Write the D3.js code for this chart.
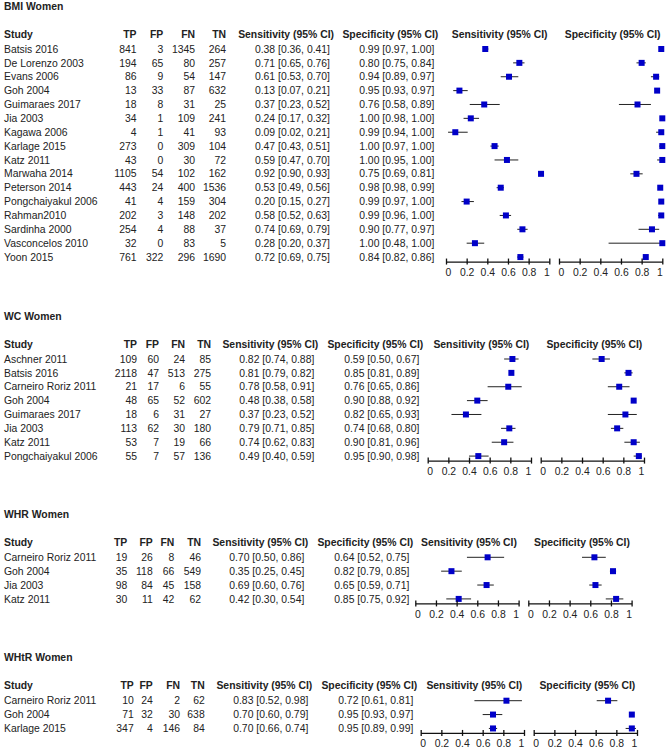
<!DOCTYPE html>
<html>
<head>
<meta charset="utf-8">
<script src="https://cdn.jsdelivr.net/npm/d3@7"></script>
<style>
body{margin:0;background:#fff;}
text{font-family:"Liberation Sans",Arial,sans-serif;font-size:10.4px;fill:#222;}
.bold{font-weight:bold;}
</style>
</head>
<body>
<div id="chart"></div>
<script>
/* data: [TP,FP,FN,TN], [est,lo,hi] */
const bmiStudy = ["Batsis 2016","De Lorenzo 2003","Evans 2006","Goh 2004","Guimaraes 2017","Jia 2003","Kagawa 2006","Karlage 2015","Katz 2011","Marwaha 2014","Peterson 2014","Pongchaiyakul 2006","Rahman2010","Sardinha 2000","Vasconcelos 2010","Yoon 2015"];
const bmiCounts = [[841,3,1345,264],[194,65,80,257],[86,9,54,147],[13,33,87,632],[18,8,31,25],[34,1,109,241],[4,1,41,93],[273,0,309,104],[43,0,30,72],[1105,54,102,162],[443,24,400,1536],[41,4,159,304],[202,3,148,202],[254,4,88,37],[32,0,83,5],[761,322,296,1690]];
const bmiSens = [[0.38,0.36,0.41],[0.71,0.65,0.76],[0.61,0.53,0.70],[0.13,0.07,0.21],[0.37,0.23,0.52],[0.24,0.17,0.32],[0.09,0.02,0.21],[0.47,0.43,0.51],[0.59,0.47,0.70],[0.92,0.90,0.93],[0.53,0.49,0.56],[0.20,0.15,0.27],[0.58,0.52,0.63],[0.74,0.69,0.79],[0.28,0.20,0.37],[0.72,0.69,0.75]];
const bmiSpec = [[0.99,0.97,1.00],[0.80,0.75,0.84],[0.94,0.89,0.97],[0.95,0.93,0.97],[0.76,0.58,0.89],[1.00,0.98,1.00],[0.99,0.94,1.00],[1.00,0.97,1.00],[1.00,0.95,1.00],[0.75,0.69,0.81],[0.98,0.98,0.99],[0.99,0.97,1.00],[0.99,0.96,1.00],[0.90,0.77,0.97],[1.00,0.48,1.00],[0.84,0.82,0.86]];

const wcStudy = ["Aschner 2011","Batsis 2016","Carneiro Roriz 2011","Goh 2004","Guimaraes 2017","Jia 2003","Katz 2011","Pongchaiyakul 2006"];
const wcCounts = [[109,60,24,85],[2118,47,513,275],[21,17,6,55],[48,65,52,602],[18,6,31,27],[113,62,30,180],[53,7,19,66],[55,7,57,136]];
const wcSens = [[0.82,0.74,0.88],[0.81,0.79,0.82],[0.78,0.58,0.91],[0.48,0.38,0.58],[0.37,0.23,0.52],[0.79,0.71,0.85],[0.74,0.62,0.83],[0.49,0.40,0.59]];
const wcSpec = [[0.59,0.50,0.67],[0.85,0.81,0.89],[0.76,0.65,0.86],[0.90,0.88,0.92],[0.82,0.65,0.93],[0.74,0.68,0.80],[0.90,0.81,0.96],[0.95,0.90,0.98]];

const whrStudy = ["Carneiro Roriz 2011","Goh 2004","Jia 2003","Katz 2011"];
const whrCounts = [[19,26,8,46],[35,118,66,549],[98,84,45,158],[30,11,42,62]];
const whrSens = [[0.70,0.50,0.86],[0.35,0.25,0.45],[0.69,0.60,0.76],[0.42,0.30,0.54]];
const whrSpec = [[0.64,0.52,0.75],[0.82,0.79,0.85],[0.65,0.59,0.71],[0.85,0.75,0.92]];

const whtrStudy = ["Carneiro Roriz 2011","Goh 2004","Karlage 2015"];
const whtrCounts = [[10,24,2,62],[71,32,30,638],[347,4,146,84]];
const whtrSens = [[0.83,0.52,0.98],[0.70,0.60,0.79],[0.70,0.66,0.74]];
const whtrSpec = [[0.72,0.61,0.81],[0.95,0.93,0.97],[0.95,0.89,0.99]];

const countHeads = ["TP","FP","FN","TN"];
const axisTicks = [0,0.2,0.4,0.6,0.8,1];

/* layout: column right edges differ a bit per panel */
const panels = [
  {title:"BMI Women", study:bmiStudy, counts:bmiCounts, sens:bmiSens, spec:bmiSpec, top:6, cols:[136.5,163.3,195,226,330,434.3], fx:446},
  {title:"WC Women", study:wcStudy, counts:wcCounts, sens:wcSens, spec:wcSpec, top:316, cols:[137,159,185,211,314.3,419.3], fx:427.7},
  {title:"WHR Women", study:whrStudy, counts:whrCounts, sens:whrSens, spec:whrSpec, top:514.3, cols:[127.3,152.7,174.3,201,304.3,409.3], fx:415.3},
  {title:"WHtR Women", study:whtrStudy, counts:whtrCounts, sens:whtrSens, spec:whtrSpec, top:657.7, cols:[133.7,152.7,180,204.7,308.3,413.3], fx:420.7}
];

const W = 669, H = 753;
const plotW = 103.3, plotGap = 113, rowStep = 13.87, box = 6;
const f2 = d3.format(".2f");
const ciText = d=>`${f2(d[0])} [${f2(d[1])}, ${f2(d[2])}]`;

const svg = d3.select("#chart").append("svg")
  .attr("width",W).attr("height",H);

panels.forEach(p=>{
  const g = svg.append("g");
  const headY = p.top + 28;
  const firstY = headY + 15;
  const y = d3.scaleLinear().domain([0,1]).range([firstY, firstY+rowStep]);
  const n = p.study.length;
  const axisY = y(n-1) + 4.5;

  g.append("text").attr("class","bold").attr("x",4).attr("y",p.top).attr("dy","0.35em").text(p.title);

  // header row
  const hd = g.append("g").attr("class","bold");
  hd.append("text").attr("x",4).attr("y",headY).attr("dy","0.35em").attr("class","bold").text("Study");
  countHeads.forEach((h,i)=>{
    hd.append("text").attr("class","bold").attr("x",p.cols[i]).attr("y",headY).attr("dy","0.35em")
      .attr("text-anchor","end").text(h);
  });
  hd.append("text").attr("class","bold").attr("x",p.cols[4]+4).attr("y",headY).attr("dy","0.35em")
    .attr("text-anchor","end").text("Sensitivity (95% CI)");
  hd.append("text").attr("class","bold").attr("x",p.cols[5]+4).attr("y",headY).attr("dy","0.35em")
    .attr("text-anchor","end").text("Specificity (95% CI)");

  const xSens = d3.scaleLinear().domain([0,1]).range([p.fx, p.fx+plotW]);
  const xSpec = d3.scaleLinear().domain([0,1]).range([p.fx+plotGap, p.fx+plotGap+plotW]);

  hd.append("text").attr("class","bold").attr("x",p.fx+plotW/2+2).attr("y",headY).attr("dy","0.35em")
    .attr("text-anchor","middle").text("Sensitivity (95% CI)");
  hd.append("text").attr("class","bold").attr("x",p.fx+plotGap+plotW/2+2).attr("y",headY).attr("dy","0.35em")
    .attr("text-anchor","middle").text("Specificity (95% CI)");

  // table rows
  const rows = g.selectAll("g.row").data(p.study).enter().append("g").attr("class","row")
    .attr("transform",(d,i)=>`translate(0,${y(i)})`);
  rows.append("text").attr("x",4).attr("dy","0.35em").text(d=>d);
  countHeads.forEach((h,k)=>{
    rows.append("text").attr("x",p.cols[k]).attr("dy","0.35em").attr("text-anchor","end")
      .text((d,i)=>p.counts[i][k]);
  });
  rows.append("text").attr("x",p.cols[4]).attr("dy","0.35em").attr("text-anchor","end")
    .text((d,i)=>ciText(p.sens[i]));
  rows.append("text").attr("x",p.cols[5]).attr("dy","0.35em").attr("text-anchor","end")
    .text((d,i)=>ciText(p.spec[i]));

  // forest marks
  [[xSens,p.sens],[xSpec,p.spec]].forEach(([x,vals])=>{
    g.selectAll(null).data(vals).enter().append("line")
      .attr("x1",d=>x(d[1])).attr("x2",d=>x(d[2]))
      .attr("y1",(d,i)=>y(i)).attr("y2",(d,i)=>y(i))
      .attr("stroke","#222").attr("stroke-width",1);
    g.selectAll(null).data(vals).enter().append("rect")
      .attr("x",d=>x(d[0])-box/2).attr("y",(d,i)=>y(i)-box/2)
      .attr("width",box).attr("height",box).attr("fill","#0000c8");

    const ax = g.append("g").attr("transform",`translate(0,${axisY})`)
      .call(d3.axisBottom(x).tickValues(axisTicks).tickSizeInner(3).tickSizeOuter(0)
        .tickPadding(4).tickFormat(d3.format("")));
    ax.select(".domain").attr("stroke","#111").attr("stroke-width",1.3);
    ax.selectAll(".tick line").attr("y1",-3).attr("y2",3).attr("stroke","#111").attr("stroke-width",1.3);
    ax.selectAll(".tick text").attr("fill","#222")
      .style("font-family","'Liberation Sans',Arial,sans-serif").style("font-size","10.4px")
      .attr("dx",(d,i)=>i==0?2:(i==axisTicks.length-1?-3:0));
  });
});
</script>
</body>
</html>
